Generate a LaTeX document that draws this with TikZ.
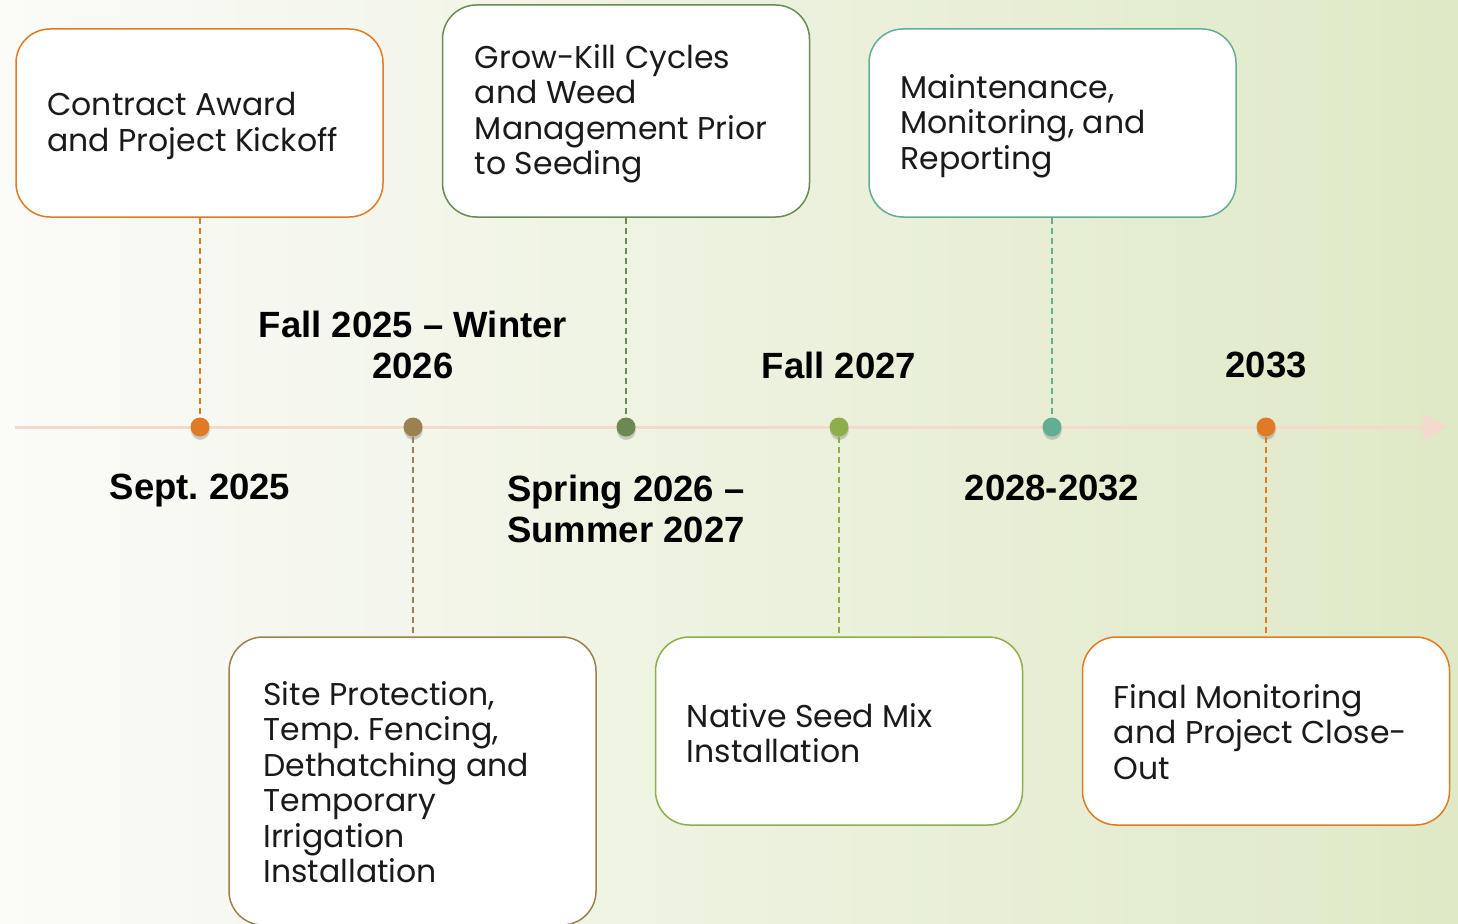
\documentclass[tikz,border=0pt]{standalone}
\usepackage{fontspec}
\setmainfont{Poppins}
\newfontfamily\lblfont{Liberation Sans}
\usetikzlibrary{arrows.meta,shadows}
\definecolor{orangeC}{HTML}{E07B25}
\definecolor{brownC}{HTML}{9C8150}
\definecolor{dgreenC}{HTML}{6B8A52}
\definecolor{oliveC}{HTML}{8DAE48}
\definecolor{tealC}{HTML}{62AE95}
\definecolor{lineC}{HTML}{F4D9CD}
\definecolor{bgL}{HTML}{FBFBF8}
\definecolor{bgR}{HTML}{DFE9C6}
\definecolor{txtC}{HTML}{1A1A1A}
\begin{document}
\begin{tikzpicture}[x=1pt,y=-1pt,
  evbox/.style={rectangle, rounded corners=34pt, fill=white, line width=1.5pt,
    minimum width=367pt, inner sep=0pt},
  evtext/.style={anchor=west, inner sep=0pt, align=left, text=txtC,
    font=\fontsize{31.5}{35.5}\selectfont},
  dot/.style={circle, minimum size=19pt, inner sep=0pt,
    circular drop shadow={shadow xshift=0pt, shadow yshift=-3pt, opacity=0.4, shadow scale=1.05}},
  conn/.style={line width=1.6pt, dash pattern=on 6pt off 4pt},
  lbl/.style={align=center, inner sep=0pt, font=\lblfont\bfseries\fontsize{36.5}{41}\selectfont}
]
\useasboundingbox (0,0) rectangle (1458,923);
\clip (0,0) rectangle (1458,923);
\shade[left color=bgL, right color=bgR] (0,0) rectangle (1458,923);

% timeline
\coordinate (tl0) at (15,427);
\coordinate (tl1) at (1448,427);
\draw[lineC, line width=3pt, -{Triangle[length=25pt,width=26pt]}] (tl0) -- (tl1);

% boxes
\node[evbox, draw=orangeC, minimum height=188pt] (b1) at (199.5,123) {};
\node[evtext] (t1) at ([xshift=32pt,yshift=-3pt]b1.west) {Contract Award\\and Project Kickoff};

\node[evbox, draw=dgreenC, minimum height=212pt] (b3) at (626,111) {};
\node[evtext] (t3) at ([xshift=33pt,yshift=-3pt]b3.west) {Grow-Kill Cycles\\and Weed\\Management Prior\\to Seeding};

\node[evbox, draw=tealC, minimum height=188pt] (b5) at (1052.5,123) {};
\node[evtext] (t5) at ([xshift=32pt,yshift=-3pt]b5.west) {Maintenance,\\Monitoring, and\\Reporting};

\node[evbox, draw=brownC, minimum height=288pt] (b2) at (412.5,781) {};
\node[evtext] (t2) at ([xshift=35pt,yshift=-1pt]b2.west) {Site Protection,\\Temp.\ Fencing,\\Dethatching and\\Temporary\\Irrigation\\Installation};

\node[evbox, draw=oliveC, minimum height=188pt] (b4) at (839,731) {};
\node[evtext] (t4) at ([xshift=32pt,yshift=-2pt]b4.west) {Native Seed Mix\\Installation};

\node[evbox, draw=orangeC, minimum height=188pt] (b6) at (1266,731) {};
\node[evtext] (t6) at ([xshift=32pt,yshift=-1pt]b6.west) {Final Monitoring\\and Project Close-\\Out};

% dots
\node[dot, fill=orangeC] (d1) at (200,427) {};
\node[dot, fill=brownC] (d2) at (413,427) {};
\node[dot, fill=dgreenC] (d3) at (626,427) {};
\node[dot, fill=oliveC] (d4) at (839,427) {};
\node[dot, fill=tealC] (d5) at (1052,427) {};
\node[dot, fill=orangeC] (d6) at (1266,427) {};

% connectors
\draw[conn, orangeC] (b1.south -| d1) -- (d1.north);
\draw[conn, brownC] (d2.south) -- (b2.north -| d2);
\draw[conn, dgreenC] (b3.south -| d3) -- (d3.north);
\draw[conn, oliveC] (d4.south) -- (b4.north -| d4);
\draw[conn, tealC] (b5.south -| d5) -- (d5.north);
\draw[conn, orangeC] (d6.south) -- (b6.north -| d6);

% labels
\node[lbl] (l1) at (200,491) {Sept.\ 2025};
\node[lbl] (l2) at (413,344.5) {Fall 2025 – Winter\\2026};
\node[lbl] (l3) at (626,508.5) {Spring 2026 –\\Summer 2027};
\node[lbl] (l4) at (839,365) {Fall 2027};
\node[lbl] (l5) at (1052,488) {2028-2032};
\node[lbl] (l6) at (1266,365) {2033};
\end{tikzpicture}
\end{document}
